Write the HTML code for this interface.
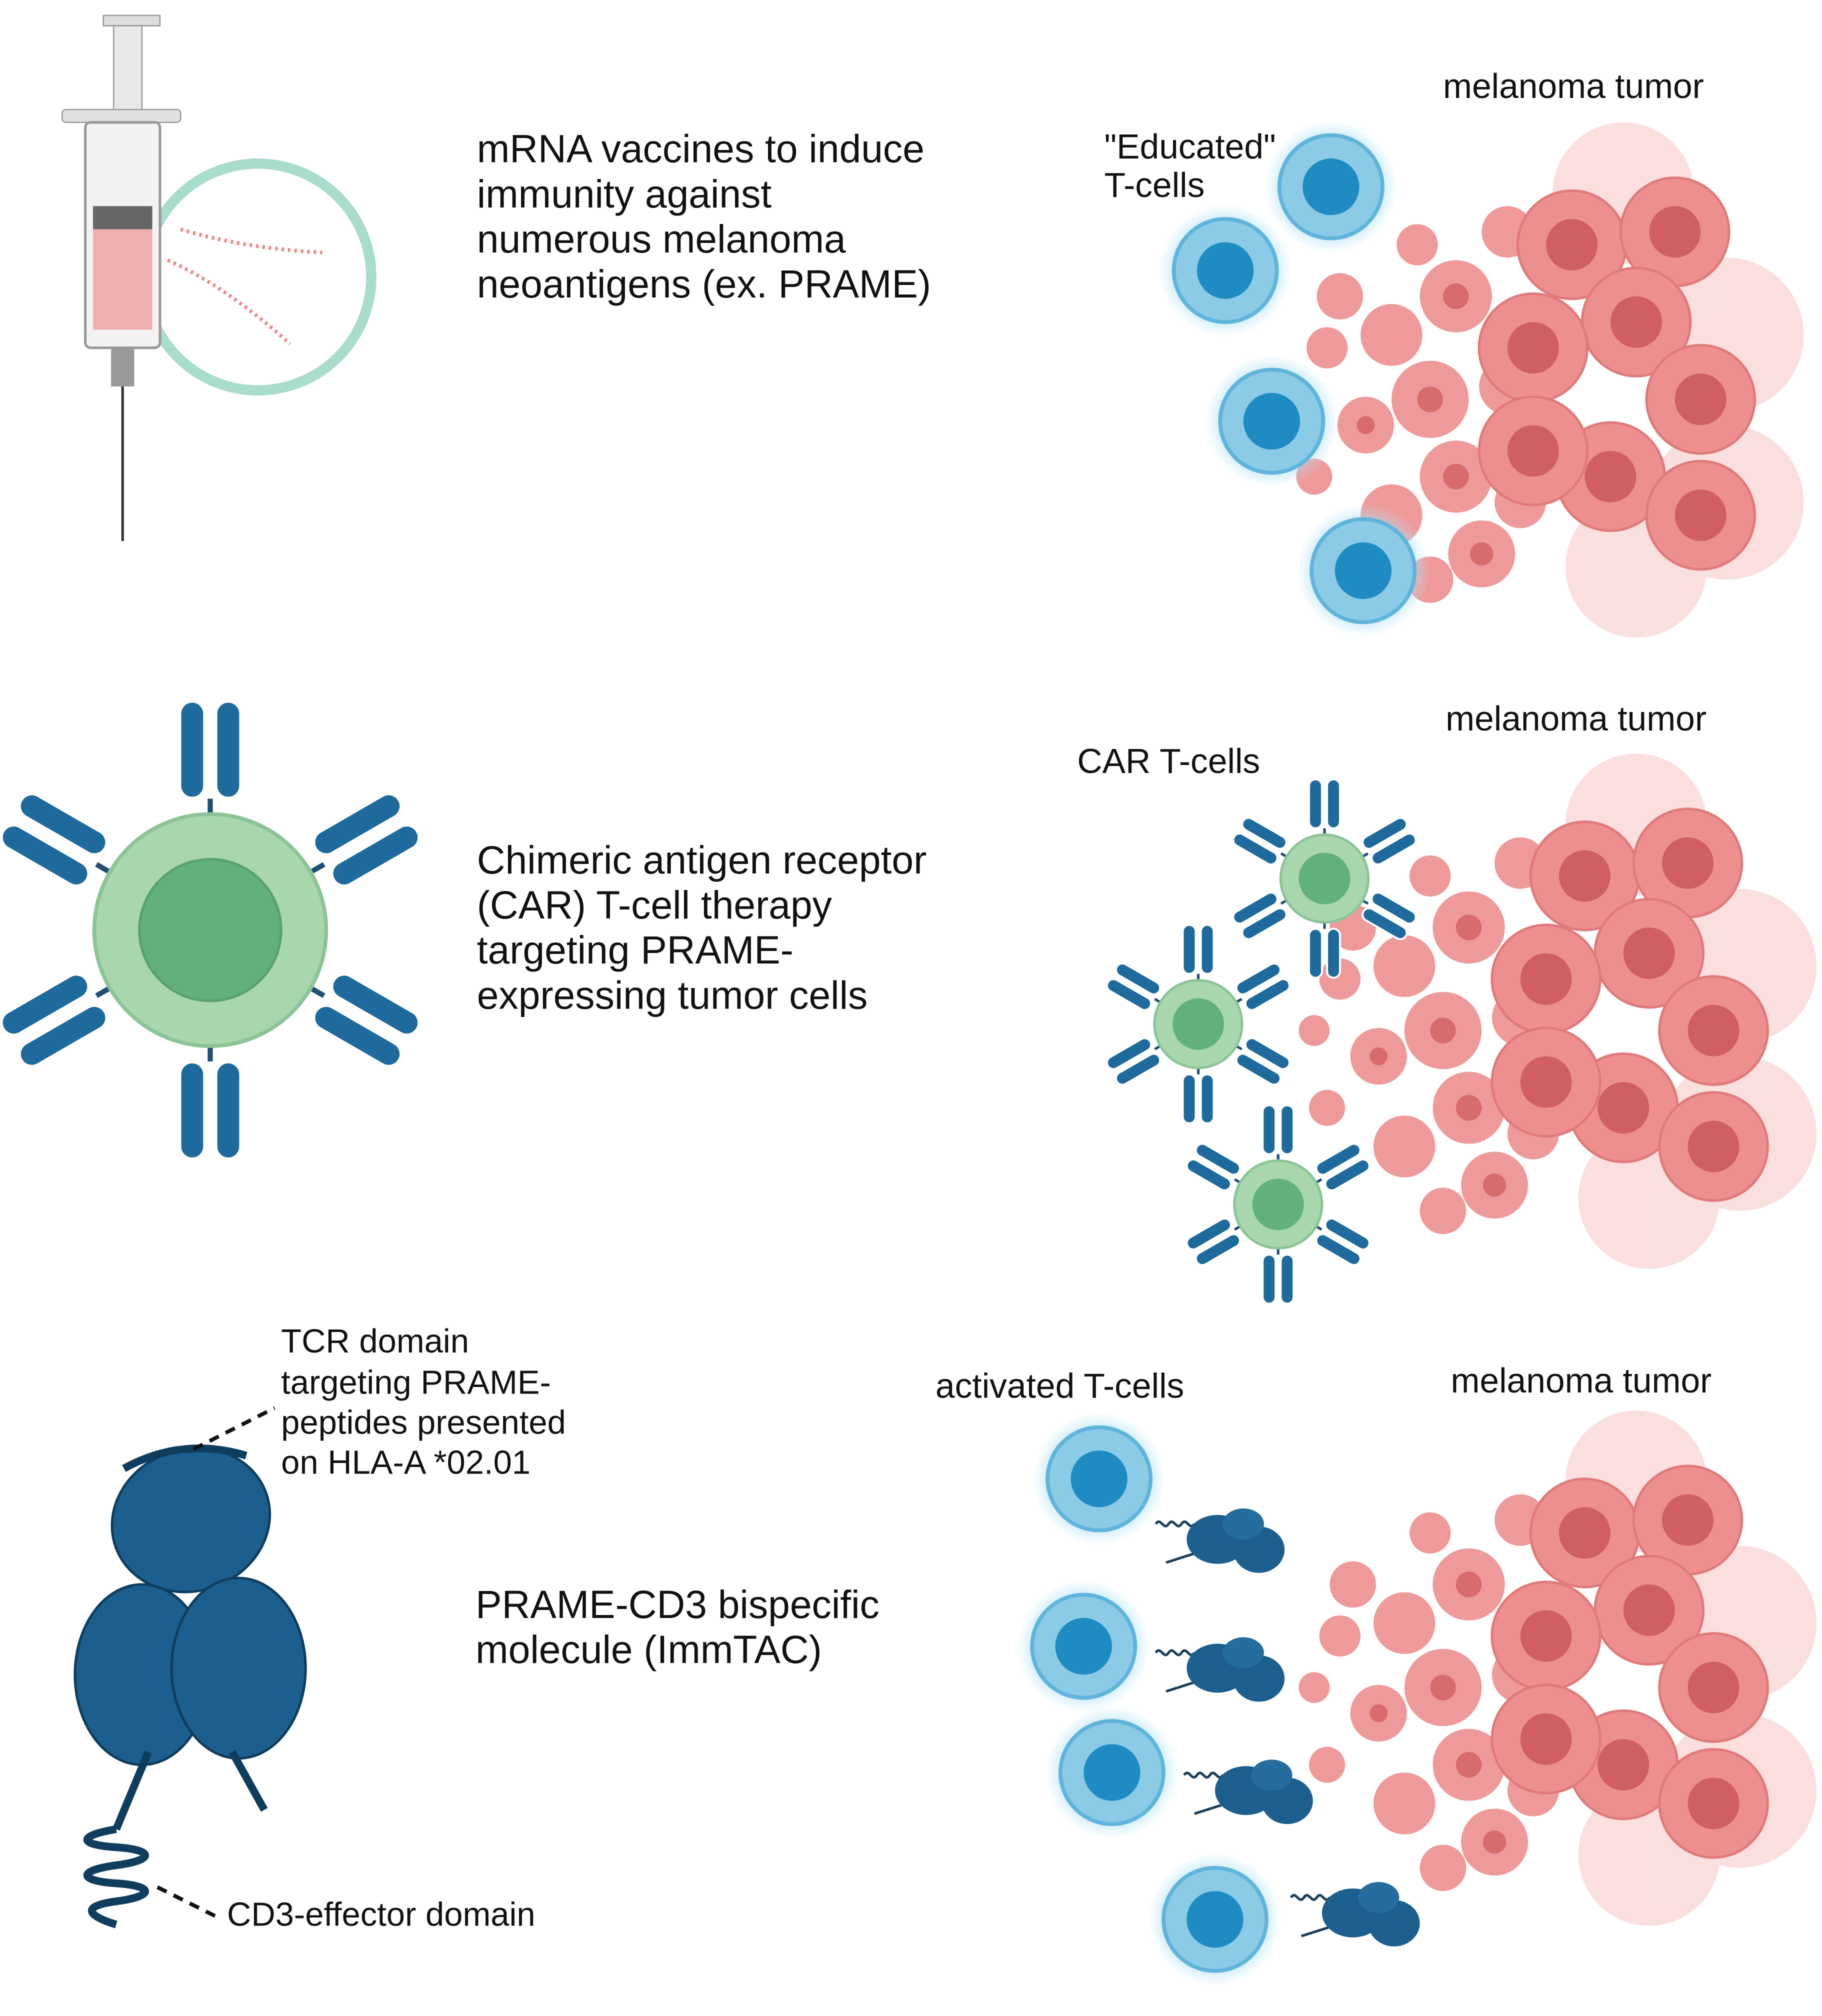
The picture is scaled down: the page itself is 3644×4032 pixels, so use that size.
<!DOCTYPE html>
<html><head><meta charset="utf-8"><style>
html,body{margin:0;padding:0;background:#fff}
svg{display:block}
text{font-family:"Liberation Sans",sans-serif;fill:#111}
</style></head><body>
<svg width="3644" height="4032" viewBox="0 0 1414 1565" xmlns="http://www.w3.org/2000/svg">
<defs>
<radialGradient id="glow"><stop offset="0.6" stop-color="#8fd3f0" stop-opacity="0.9"/><stop offset="1" stop-color="#bfe8f8" stop-opacity="0"/></radialGradient>
<g id="tcell">
<circle r="52" fill="url(#glow)"/>
<circle r="40" fill="#8ccbe6" stroke="#5fb4dc" stroke-width="3"/>
<circle r="22" fill="#1e8cc2"/>
</g>
<g id="cell">
<circle r="42" fill="#ee8f8f" stroke="#e07a7a" stroke-width="2"/>
<circle r="20" fill="#cf5f62"/>
</g>
<g id="tumor">
<g opacity="0.35" fill="#f3a4a4"><circle cx="30" cy="-140" r="55"/><circle cx="110" cy="-30" r="60"/><circle cx="110" cy="100" r="60"/><circle cx="40" cy="150" r="55"/></g>
<g fill="#ef9a9a"><circle cx="-100" cy="-60" r="28"/><circle cx="-150" cy="-30" r="24"/><circle cx="-120" cy="20" r="30"/><circle cx="-170" cy="40" r="22"/><circle cx="-100" cy="80" r="28"/><circle cx="-150" cy="110" r="24"/><circle cx="-80" cy="140" r="26"/><circle cx="-200" cy="-20" r="16"/><circle cx="-210" cy="80" r="14"/><circle cx="-60" cy="-110" r="20"/><circle cx="-190" cy="-60" r="18"/><circle cx="-130" cy="-100" r="16"/><circle cx="-60" cy="10" r="22"/><circle cx="-50" cy="100" r="20"/><circle cx="-120" cy="160" r="18"/><circle cx="-220" cy="20" r="12"/></g>
<g fill="#d86b6d"><circle cx="-100" cy="-60" r="10"/><circle cx="-120" cy="20" r="10"/><circle cx="-100" cy="80" r="10"/><circle cx="-80" cy="140" r="9"/><circle cx="-170" cy="40" r="7"/></g>
<use href="#cell" x="-10" y="-100"/><use href="#cell" x="70" y="-110"/>
<use href="#cell" x="40" y="-40"/><use href="#cell" x="-40" y="-20"/>
<use href="#cell" x="90" y="20"/><use href="#cell" x="20" y="80"/>
<use href="#cell" x="90" y="110"/><use href="#cell" x="-40" y="60"/>
</g>
<g id="ab"><rect x="-12" y="-45" width="10" height="38" rx="5" fill="#1e6a9c" stroke="#fff" stroke-width="1.5"/><rect x="2" y="-45" width="10" height="38" rx="5" fill="#1e6a9c" stroke="#fff" stroke-width="1.5"/><line x1="0" y1="-7" x2="0" y2="0" stroke="#1e4f73" stroke-width="2"/></g>
<g id="car">
<use href="#ab" transform="translate(0,-32)"/><use href="#ab" transform="rotate(60) translate(0,-32)"/><use href="#ab" transform="rotate(120) translate(0,-32)"/><use href="#ab" transform="rotate(180) translate(0,-32)"/><use href="#ab" transform="rotate(240) translate(0,-32)"/><use href="#ab" transform="rotate(300) translate(0,-32)"/>
<circle r="34" fill="#a9d7ad" stroke="#8cc497" stroke-width="2"/><circle r="20" fill="#63b07f"/>
</g>
<g id="imm"><path d="M-48 -12 c4 -6 6 6 10 0 c4 -6 6 6 10 0 c4 -6 6 6 10 0" fill="none" stroke="#1c3f5a" stroke-width="2"/><line x1="-40" y1="18" x2="-15" y2="10" stroke="#1c3f5a" stroke-width="2"/><ellipse cx="0" cy="0" rx="24" ry="19" fill="#1c5f8f"/><ellipse cx="32" cy="8" rx="20" ry="18" fill="#1c5f8f"/><ellipse cx="20" cy="-12" rx="16" ry="12" fill="#246d9e"/></g>
</defs>

<!-- syringe -->
<circle cx="200" cy="215" r="88" fill="none" stroke="#a8dccd" stroke-width="8"/>
<rect x="80" y="12" width="44" height="8" fill="#ddd" stroke="#999"/>
<rect x="88" y="20" width="22" height="70" fill="#e8e8e8" stroke="#999"/>
<rect x="48" y="85" width="92" height="10" rx="3" fill="#e0e0e0" stroke="#999"/>
<rect x="66" y="95" width="58" height="175" rx="4" fill="#f2f2f2" stroke="#999" stroke-width="2"/>
<rect x="72" y="160" width="46" height="18" fill="#666"/>
<rect x="72" y="178" width="46" height="78" fill="#f0b0b0"/>
<rect x="86" y="270" width="18" height="30" fill="#999"/>
<line x1="95" y1="300" x2="95" y2="420" stroke="#333" stroke-width="2"/>
<path d="M140 178 q50 15 110 18 M130 202 q45 20 95 65" fill="none" stroke="#e88a88" stroke-width="3" stroke-dasharray="2 3"/>
<g font-size="30.5"><text x="370" y="126">mRNA vaccines to induce</text><text x="370" y="161">immunity against</text><text x="370" y="196">numerous melanoma</text><text x="370" y="231">neoantigens (ex. PRAME)</text></g>

<use href="#tumor" transform="translate(1230,290)"/>
<use href="#tcell" x="1033" y="145"/><use href="#tcell" x="951" y="210"/><use href="#tcell" x="987" y="327"/><use href="#tcell" x="1058" y="443"/>
<g font-size="27"><text x="1120" y="76">melanoma tumor</text><text x="857" y="123">"Educated"</text><text x="857" y="153">T-cells</text></g>

<!-- CAR -->
<g transform="translate(163,722)">
<use href="#ab" transform="translate(0,-88) scale(2)"/><use href="#ab" transform="rotate(60) translate(0,-88) scale(2)"/><use href="#ab" transform="rotate(120) translate(0,-88) scale(2)"/><use href="#ab" transform="rotate(180) translate(0,-88) scale(2)"/><use href="#ab" transform="rotate(240) translate(0,-88) scale(2)"/><use href="#ab" transform="rotate(300) translate(0,-88) scale(2)"/>
<circle r="90" fill="#a9d7ad" stroke="#8cc497" stroke-width="3"/><circle r="55" fill="#63b07f" stroke="#5aa071" stroke-width="2"/>
</g>
<g font-size="30.5"><text x="370" y="678">Chimeric antigen receptor</text><text x="370" y="713">(CAR) T-cell therapy</text><text x="370" y="748"> targeting PRAME-</text><text x="370" y="783">expressing tumor cells</text></g>
<use href="#tumor" transform="translate(1240,780)"/>
<use href="#car" x="1028" y="682"/><use href="#car" x="930" y="795"/><use href="#car" x="992" y="935"/>
<g font-size="27"><text x="1122" y="567">melanoma tumor</text><text x="836" y="600">CAR T-cells</text></g>

<!-- ImmTAC -->
<ellipse cx="148" cy="1180" rx="62" ry="55" fill="#1c5f8f" stroke="#0f3d5e" stroke-width="2" transform="rotate(-20 148 1180)"/>
<path d="M96 1140 q45 -25 95 -10" fill="none" stroke="#0f3d5e" stroke-width="6"/>
<ellipse cx="110" cy="1300" rx="52" ry="70" fill="#1c5f8f" stroke="#0f3d5e" stroke-width="2"/>
<ellipse cx="185" cy="1295" rx="52" ry="70" fill="#1c5f8f" stroke="#0f3d5e" stroke-width="2"/>
<line x1="115" y1="1360" x2="90" y2="1420" stroke="#0f3d5e" stroke-width="6"/>
<line x1="180" y1="1360" x2="205" y2="1405" stroke="#0f3d5e" stroke-width="6"/>
<path d="M90 1420 c-30 5 -30 12 0 14 c30 2 30 10 0 14 c-30 4 -30 12 0 14 c30 2 30 10 0 14 c-30 4 -20 12 0 18" fill="none" stroke="#0f3d5e" stroke-width="6"/>
<line x1="150" y1="1125" x2="213" y2="1093" stroke="#111" stroke-width="3" stroke-dasharray="8 6"/>
<line x1="122" y1="1465" x2="172" y2="1490" stroke="#111" stroke-width="3" stroke-dasharray="8 6"/>
<g font-size="26"><text x="218" y="1050">TCR domain</text><text x="218" y="1082">targeting PRAME-</text><text x="218" y="1113">peptides presented</text><text x="218" y="1144">on HLA-A *02.01</text><text x="176" y="1495">CD3-effector domain</text></g>
<g font-size="30.5"><text x="369" y="1256">PRAME-CD3 bispecific</text><text x="369" y="1291">molecule (ImmTAC)</text></g>
<use href="#tumor" transform="translate(1240,1290)"/>
<use href="#tcell" x="853" y="1148"/><use href="#tcell" x="841" y="1278"/><use href="#tcell" x="863" y="1376"/><use href="#tcell" x="943" y="1490"/>
<use href="#imm" x="945" y="1195"/><use href="#imm" x="945" y="1295"/><use href="#imm" x="967" y="1390"/><use href="#imm" x="1050" y="1485"/>
<g font-size="27"><text x="1126" y="1081">melanoma tumor</text><text x="726" y="1085">activated T-cells</text></g>
</svg>
</body></html>
